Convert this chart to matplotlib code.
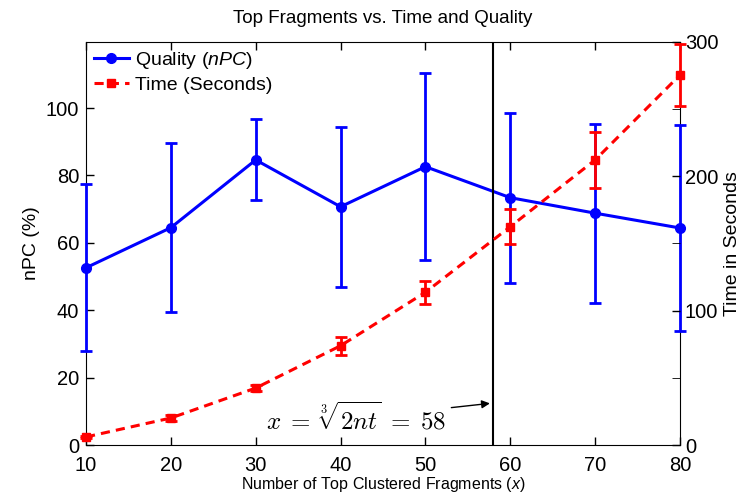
import matplotlib
matplotlib.use("Agg")
import matplotlib.pyplot as plt
from matplotlib.ticker import MultipleLocator
from matplotlib.lines import Line2D

plt.rcParams['font.family'] = ['Liberation Sans', 'DejaVu Sans']
plt.rcParams['mathtext.fontset'] = 'custom'
plt.rcParams['mathtext.rm'] = 'Liberation Sans'
plt.rcParams['mathtext.it'] = 'Liberation Sans:italic'

fragments = [10, 20, 30, 40, 50, 60, 70, 80]
quality = [52.6, 64.5, 84.6, 70.7, 82.6, 73.4, 68.8, 64.4]
quality_err = [24.8, 25.0, 12.0, 23.7, 27.8, 25.2, 26.6, 30.7]
time_s = [6.0, 20.1, 42.4, 73.9, 113.7, 162.5, 212.2, 275.4]
time_err = [1.0, 2.0, 2.5, 6.7, 8.7, 13.0, 21.0, 23.3]
cutoff = 58

fig = plt.figure(figsize=(7.46, 4.98), dpi=100)
ax = fig.add_axes([0.1153, 0.1064, 0.7962, 0.8093])
ax2 = ax.twinx()
for sp in ax2.spines.values():
    sp.set_visible(False)

h1 = ax.errorbar(fragments, quality, yerr=quality_err, color='#0000ff', lw=2.2,
                 marker='o', ms=7, capsize=4.5, capthick=2, elinewidth=2,
                 clip_on=False, zorder=3)
for a in h1.lines[2] + h1.lines[1]:
    a.set_clip_on(False)
h2 = ax2.errorbar(fragments, time_s, yerr=time_err, color='#ff0000', lw=2.2,
                  ls='--', dashes=(3, 2), marker='s', ms=6, capsize=4.5, capthick=2,
                  elinewidth=2, clip_on=False, zorder=3)
for a in h2.lines[2] + h2.lines[1]:
    a.set_clip_on(False)

ax2.axvline(cutoff, color='black', lw=1.5)

ax.set_xlim(10, 80)
ax.set_ylim(0, 119.6)
ax2.set_ylim(0, 300)
ax.set_xticks(fragments)
ax.set_yticks([0, 20, 40, 60, 80, 100])
ax2.set_yticks([0, 100, 200, 300])
ax2.yaxis.set_minor_locator(MultipleLocator(50))

for a in (ax, ax2):
    a.tick_params(direction='in', labelsize=14.5, width=1, length=6)
    a.tick_params(which='minor', direction='in', length=6)
ax.tick_params(top=True, axis='x', pad=8)
ax.tick_params(axis='y', pad=5)

ax.set_xlabel('Number of Top Clustered Fragments ($\\mathit{x}$)', fontsize=11.5, labelpad=0)
ax.set_ylabel('nPC (%)', fontsize=14)
ax2.set_ylabel('Time in Seconds', fontsize=14)
ax.set_title('Top Fragments vs. Time and Quality', fontsize=13.5, pad=14)

ax2.annotate('$x\\;=\\;\\sqrt[3]{2nt}\\;=\\;58$', xy=(57.6, 31), xytext=(52.4, 20),
             xycoords='data', textcoords='data', ha='right', va='center', fontsize=18,
             math_fontfamily='cm',
             arrowprops=dict(arrowstyle='-|>', color='black', lw=1, mutation_scale=12,
                             shrinkA=2, shrinkB=0))

p1 = Line2D([], [], color='#0000ff', lw=2.2, marker='o', ms=7)
p2 = Line2D([], [], color='#ff0000', lw=2.2, ls='--', dashes=(3, 2), marker='s', ms=6)
ax2.legend(handles=[p1, p2], labels=['Quality ($\\mathit{nPC}$)', 'Time (Seconds)'],
           loc='upper left', frameon=False, fontsize=14,
           handlelength=1.8, handletextpad=0.3, borderaxespad=0.2, labelspacing=0.3,
           borderpad=0.2)

fig.savefig('out.png', dpi=100)
